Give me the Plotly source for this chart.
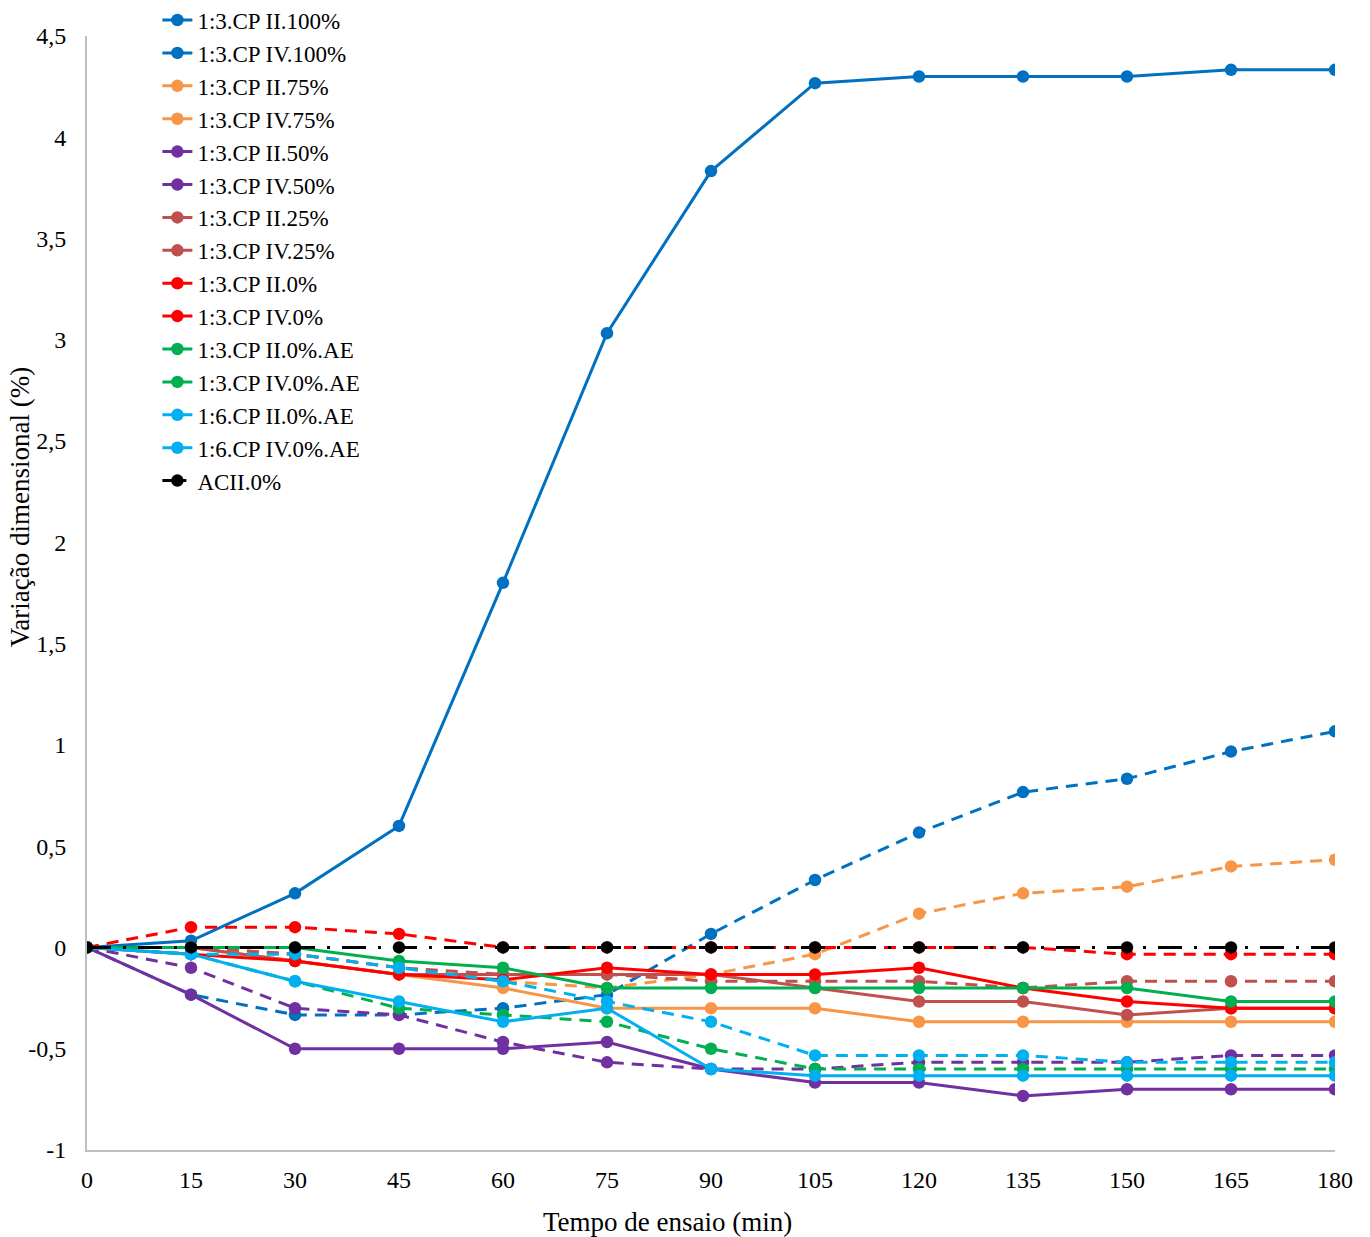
import plotly.graph_objects as go

tempo = [0, 15, 30, 45, 60, 75, 90, 105, 120, 135, 150, 165, 180]

cp2_100 = [0, 0.033, 0.267, 0.6, 1.8, 3.033, 3.833, 4.267, 4.3, 4.3, 4.3, 4.333, 4.333]
cp4_100 = [0, -0.233, -0.333, -0.333, -0.3, -0.233, 0.067, 0.333, 0.567, 0.767, 0.833, 0.967, 1.067]
cp2_75 = [0, 0, -0.067, -0.133, -0.2, -0.3, -0.3, -0.3, -0.367, -0.367, -0.367, -0.367, -0.367]
cp4_75 = [0, 0, -0.033, -0.1, -0.167, -0.2, -0.133, -0.033, 0.167, 0.267, 0.3, 0.4, 0.433]
cp2_50 = [0, -0.233, -0.5, -0.5, -0.5, -0.467, -0.6, -0.667, -0.667, -0.733, -0.7, -0.7, -0.7]
cp4_50 = [0, -0.1, -0.3, -0.333, -0.467, -0.567, -0.6, -0.6, -0.567, -0.567, -0.567, -0.533, -0.533]
cp2_25 = [0, 0, -0.067, -0.133, -0.133, -0.133, -0.133, -0.2, -0.267, -0.267, -0.333, -0.3, -0.3]
cp4_25 = [0, 0, -0.033, -0.1, -0.133, -0.133, -0.167, -0.167, -0.167, -0.2, -0.167, -0.167, -0.167]
cp2_0 = [0, -0.033, -0.067, -0.133, -0.16, -0.1, -0.133, -0.133, -0.1, -0.2, -0.267, -0.3, -0.3]
cp4_0 = [0, 0.1, 0.1, 0.067, 0, 0, 0, 0, 0, 0, -0.033, -0.033, -0.033]
cp2_0_ae = [0, 0, 0, -0.067, -0.1, -0.2, -0.2, -0.2, -0.2, -0.2, -0.2, -0.267, -0.267]
cp4_0_ae = [0, -0.033, -0.167, -0.3, -0.333, -0.367, -0.5, -0.6, -0.6, -0.6, -0.6, -0.6, -0.6]
cp2_0_ae_16 = [0, -0.033, -0.167, -0.267, -0.367, -0.3, -0.6, -0.633, -0.633, -0.633, -0.633, -0.633, -0.633]
cp4_0_ae_16 = [0, -0.033, -0.033, -0.1, -0.167, -0.267, -0.367, -0.533, -0.533, -0.533, -0.567, -0.567, -0.567]
acii_0 = [0, 0, 0, 0, 0, 0, 0, 0, 0, 0, 0, 0, 0]

y_ticks = [-1, -0.5, 0, 0.5, 1, 1.5, 2, 2.5, 3, 3.5, 4, 4.5]
y_ticktext = ["-1", "-0,5", "0", "0,5", "1", "1,5", "2", "2,5", "3", "3,5", "4", "4,5"]

BLUE = "#0070C0"
ORANGE = "#F79646"
PURPLE = "#7030A0"
BROWN = "#C0504D"
RED = "#FF0000"
GREEN = "#00B050"
CYAN = "#00B0F0"
BLACK = "#000000"

DASH = "12px,8px"
DASHDOT = "24px,12px,3px,12px"

series = [
    ("1:3.CP II.100%", cp2_100, BLUE, "solid"),
    ("1:3.CP IV.100%", cp4_100, BLUE, DASH),
    ("1:3.CP II.75%", cp2_75, ORANGE, "solid"),
    ("1:3.CP IV.75%", cp4_75, ORANGE, DASH),
    ("1:3.CP II.50%", cp2_50, PURPLE, "solid"),
    ("1:3.CP IV.50%", cp4_50, PURPLE, DASH),
    ("1:3.CP II.25%", cp2_25, BROWN, "solid"),
    ("1:3.CP IV.25%", cp4_25, BROWN, DASH),
    ("1:3.CP II.0%", cp2_0, RED, "solid"),
    ("1:3.CP IV.0%", cp4_0, RED, DASH),
    ("1:3.CP II.0%.AE", cp2_0_ae, GREEN, "solid"),
    ("1:3.CP IV.0%.AE", cp4_0_ae, GREEN, DASH),
    ("1:6.CP II.0%.AE", cp2_0_ae_16, CYAN, "solid"),
    ("1:6.CP IV.0%.AE", cp4_0_ae_16, CYAN, DASH),
    ("ACII.0%", acii_0, BLACK, DASHDOT),
]

FONT = "Liberation Serif, Times New Roman, serif"

fig = go.Figure()
for name, vals, color, dash in series:
    fig.add_trace(go.Scatter(
        x=tempo, y=vals, name=name, mode="lines+markers",
        line=dict(color=color, width=3, dash=dash),
        marker=dict(color=color, size=12.5),
    ))

fig.update_layout(
    width=1370, height=1237,
    margin=dict(l=87, r=35, t=36, b=87, autoexpand=False),
    paper_bgcolor="white", plot_bgcolor="white",
    font=dict(family=FONT, size=23, color="#000000"),
    showlegend=True,
    legend=dict(
        x=0.0564, y=1.0336, xanchor="left", yanchor="top",
        bgcolor="rgba(0,0,0,0)", font=dict(family=FONT, size=23),
        tracegroupgap=0, itemwidth=30,
    ),
    xaxis=dict(
        range=[0, 180], tickmode="array", tickvals=tempo,
        ticktext=[str(t) for t in tempo],
        showgrid=False, zeroline=False, showline=True,
        linecolor="#BFBFBF", linewidth=2, ticks="", ticklabelstandoff=7,
        tickfont=dict(family=FONT, size=24),
    ),
    yaxis=dict(
        range=[-1, 4.5], tickmode="array", tickvals=y_ticks, ticktext=y_ticktext,
        showgrid=False, zeroline=False, showline=True,
        linecolor="#BFBFBF", linewidth=2, ticks="", ticklabelstandoff=14,
        tickfont=dict(family=FONT, size=24),
    ),
    annotations=[
        dict(text="Variação dimensional (%)", x=-0.0537, y=0.577,
             xref="paper", yref="paper", showarrow=False, textangle=-90,
             xanchor="center", yanchor="middle",
             font=dict(family=FONT, size=27)),
        dict(text="Tempo de ensaio (min)", x=0.4655, y=-0.0646,
             xref="paper", yref="paper", showarrow=False,
             xanchor="center", yanchor="middle",
             font=dict(family=FONT, size=27)),
    ],
)

fig.write_html(
    "out.html",
    config={"displayModeBar": False},
    post_script="document.body.style.margin='0';document.body.style.padding='0';document.documentElement.style.overflow='hidden';",
)
